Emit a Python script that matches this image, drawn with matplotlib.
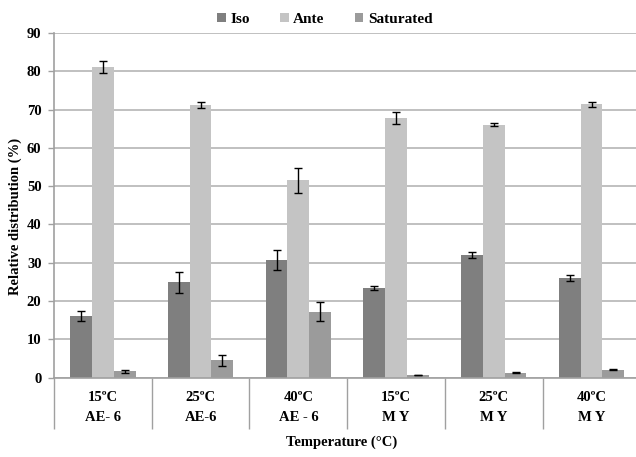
import numpy as np
import matplotlib.pyplot as plt

plt.rcParams['font.family'] = ['Liberation Serif', 'DejaVu Serif']
plt.rcParams['font.weight'] = 'bold'

categories = ['15ºC\nAE- 6', '25ºC\nAE-6', '40ºC\nAE - 6',
              '15ºC\nM Y', '25ºC\nM Y', '40ºC\nM Y']
iso = [16.1, 24.9, 30.7, 23.4, 32.0, 26.0]
iso_err = [1.2, 2.7, 2.5, 0.4, 0.7, 0.7]
ante = [81.1, 71.2, 51.5, 67.8, 66.1, 71.4]
ante_err = [1.5, 0.7, 3.2, 1.6, 0.4, 0.6]
saturated = [1.6, 4.5, 17.2, 0.7, 1.3, 2.1]
saturated_err = [0.4, 1.4, 2.5, 0.1, 0.1, 0.2]

series = [('Iso', iso, iso_err, '#7f7f7f'),
          ('Ante', ante, ante_err, '#c4c4c4'),
          ('Saturated', saturated, saturated_err, '#9b9b9b')]

fig = plt.figure(figsize=(6.36, 4.57), dpi=100)
ax = fig.add_axes([0.0849, 0.1738, 0.922, 0.754])

x = np.arange(len(categories))
w = 0.223
for i, (name, vals, errs, col) in enumerate(series):
    ax.bar(x + (i - 1) * w, vals, w, color=col, label=name, zorder=2)
    ax.errorbar(x + (i - 1) * w, vals, yerr=errs, fmt='none', ecolor='black',
                elinewidth=1, capsize=3, capthick=1, zorder=3)

ax.set_xlim(-0.5, len(categories) - 0.5)
ax.set_ylim(0, 90)
ax.set_yticks(range(0, 91, 10))
ax.yaxis.grid(True, color='#b5b5b5', linewidth=1.2, zorder=0)
ax.set_axisbelow(True)

# category labels, with long minor ticks as separators
ax.set_xticks(x)
ax.set_xticklabels(categories, fontsize=10.5, linespacing=1.65)
ax.set_xticks(np.arange(-0.5, len(categories), 1.0), minor=True)
ax.tick_params(axis='x', which='major', length=0, pad=10)
ax.tick_params(axis='x', which='minor', length=37, color='#a0a0a0', width=1)
ax.tick_params(axis='y', labelsize=10.5, length=4, pad=5, color='#a0a0a0', width=1)

for side in ['top', 'right']:
    ax.spines[side].set_visible(False)
for side in ['left', 'bottom']:
    ax.spines[side].set_color('#a0a0a0')
    ax.spines[side].set_linewidth(1.2)

ax.set_ylabel('Relative distribution (%)', fontsize=10.5, fontweight='bold', va='center')
ax.yaxis.set_label_coords(-0.066, 0.469)
ax.set_xlabel('Temperature (°C)', fontsize=10.5, fontweight='bold', va='center')
ax.xaxis.set_label_coords(0.49, -0.187)

ax.legend(loc='center', bbox_to_anchor=(0.462, 1.04), ncol=3, frameon=False,
          fontsize=11, handlelength=0.55, handleheight=0.55, handletextpad=0.3,
          columnspacing=2.0, borderpad=0)

fig.savefig('out.png', dpi=100)
